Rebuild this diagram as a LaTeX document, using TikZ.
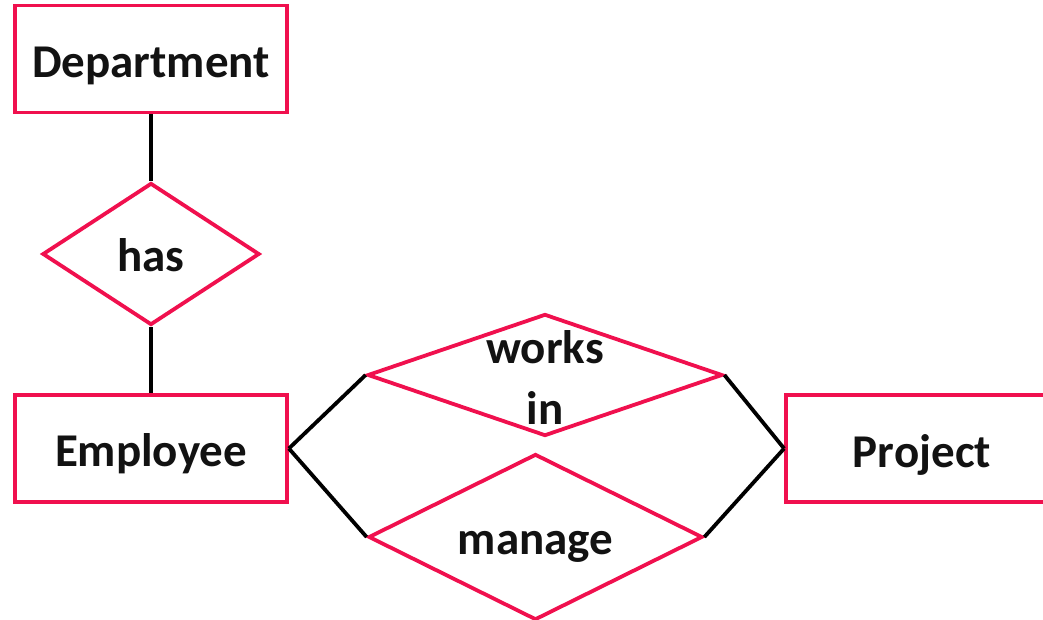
\documentclass[tikz,border=0pt]{standalone}
\usepackage{fontspec}
\setmainfont{Carlito}
\usetikzlibrary{shapes.geometric}
\definecolor{erpink}{RGB}{240,16,78}
\begin{document}
\begin{tikzpicture}[x=1pt,y=-1pt,
  ertext/.style={font=\fontsize{47}{58}\selectfont\bfseries, text=black!93,
    inner sep=0pt, anchor=base},
  entity/.style={draw=erpink, line width=3.8pt, rectangle, fill=white,
    minimum width=272pt, minimum height=107pt, inner sep=0pt},
  rel/.style={draw=erpink, line width=3.8pt, diamond, inner sep=0pt, shape aspect=1},
  link/.style={line width=3.8pt, black}]
  \useasboundingbox (0,0) rectangle (1043,620);
  \clip (0,0) rectangle (1043,620);

  % entities
  \node[entity] (dept) at (151,59) {};
  \node[entity] (emp)  at (151,448.5) {};
  \node[entity] (proj) at (922,448.5) {};

  % relationships
  \node[rel, minimum width=217pt, minimum height=142pt] (has) at (151,254) {};
  \node[rel, minimum width=355pt, minimum height=122pt] (works) at (545,375) {};
  \node[rel, minimum width=334pt, minimum height=166pt] (manage) at (535.5,537) {};

  % names, set on baselines measured from each shape's centre
  \node[ertext, yshift=-19pt]   (deptT)   at (dept.center)   {Department};
  \node[ertext, yshift=-17.5pt] (empT)    at (emp.center)    {Employee};
  \node[ertext, yshift=-18.5pt] (projT)   at (proj.center)   {Project};
  \node[ertext, yshift=-17pt]   (hasT)    at (has.center)    {has};
  \node[ertext, yshift=12pt]    (worksT)  at (works.center)  {works};
  \node[ertext, yshift=-49pt]   (inT)     at (works.center)  {in};
  \node[ertext, yshift=-17pt]   (manageT) at (manage.center) {manage};

  % connectors
  \draw[link] (dept.south) -- (has.north);
  \draw[link] (has.south) -- (emp.north);
  \draw[link] (emp.east) -- (works.west);
  \draw[link] (emp.east) -- (manage.west);
  \draw[link] (proj.west) -- (works.east);
  \draw[link] (proj.west) -- (manage.east);
\end{tikzpicture}
\end{document}
